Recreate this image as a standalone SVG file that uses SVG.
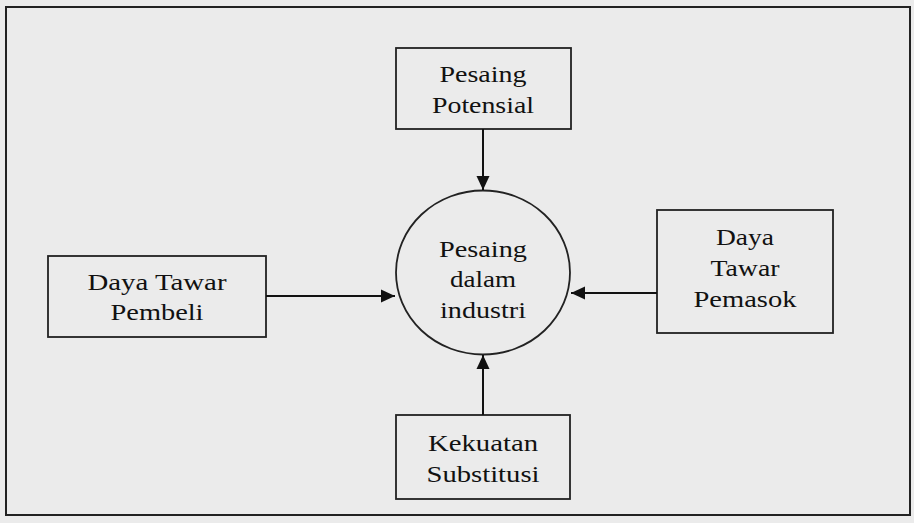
<svg xmlns="http://www.w3.org/2000/svg" width="914" height="523" viewBox="0 0 914 523">
<defs>
<style>
.bg{fill:#ebebeb}
.box{fill:none;stroke:#222;stroke-width:1.8}
.t{font-family:"Liberation Serif","Times New Roman",serif;font-size:24px;fill:#111;text-anchor:middle}
.c{stroke:#111;stroke-width:2;fill:none}
</style>
<marker id="ah" markerUnits="userSpaceOnUse" markerWidth="16" markerHeight="14" refX="14" refY="7" orient="auto">
<path d="M0,0.5 L14,7 L0,13.5 Z" fill="#111"/>
</marker>
</defs>
<rect class="bg" x="0" y="0" width="914" height="523"/>
<rect x="6" y="7" width="904" height="508" fill="none" stroke="#222" stroke-width="2"/>
<g id="pesaing-potensial">
<rect class="box" x="396" y="48" width="175" height="81"/>
<text class="t" x="483" y="82" textLength="87" lengthAdjust="spacingAndGlyphs">Pesaing</text>
<text class="t" x="483" y="113" textLength="102" lengthAdjust="spacingAndGlyphs">Potensial</text>
</g>
<g id="pesaing-industri">
<ellipse cx="483" cy="272.5" rx="87" ry="82" fill="none" stroke="#222" stroke-width="1.8"/>
<text class="t" x="483" y="257" textLength="88" lengthAdjust="spacingAndGlyphs">Pesaing</text>
<text class="t" x="483" y="287" textLength="66" lengthAdjust="spacingAndGlyphs">dalam</text>
<text class="t" x="483" y="318" textLength="86" lengthAdjust="spacingAndGlyphs">industri</text>
</g>
<g id="daya-tawar-pembeli">
<rect class="box" x="48" y="256" width="218" height="81"/>
<text class="t" x="157" y="290" textLength="139" lengthAdjust="spacingAndGlyphs">Daya Tawar</text>
<text class="t" x="157" y="320" textLength="93" lengthAdjust="spacingAndGlyphs">Pembeli</text>
</g>
<g id="daya-tawar-pemasok">
<rect class="box" x="657" y="210" width="176" height="123"/>
<text class="t" x="745" y="245" textLength="58" lengthAdjust="spacingAndGlyphs">Daya</text>
<text class="t" x="745" y="276" textLength="69" lengthAdjust="spacingAndGlyphs">Tawar</text>
<text class="t" x="745" y="307" textLength="103" lengthAdjust="spacingAndGlyphs">Pemasok</text>
</g>
<g id="kekuatan-substitusi">
<rect class="box" x="396" y="415" width="174" height="84"/>
<text class="t" x="483" y="451" textLength="110" lengthAdjust="spacingAndGlyphs">Kekuatan</text>
<text class="t" x="483" y="482" textLength="113" lengthAdjust="spacingAndGlyphs">Substitusi</text>
</g>
<g id="connectors">
<line class="c" x1="483" y1="129" x2="483" y2="190" marker-end="url(#ah)"/>
<line class="c" x1="266" y1="296" x2="395" y2="296" marker-end="url(#ah)"/>
<line class="c" x1="657" y1="293" x2="571" y2="293" marker-end="url(#ah)"/>
<line class="c" x1="483" y1="415" x2="483" y2="355" marker-end="url(#ah)"/>
</g>
</svg>
